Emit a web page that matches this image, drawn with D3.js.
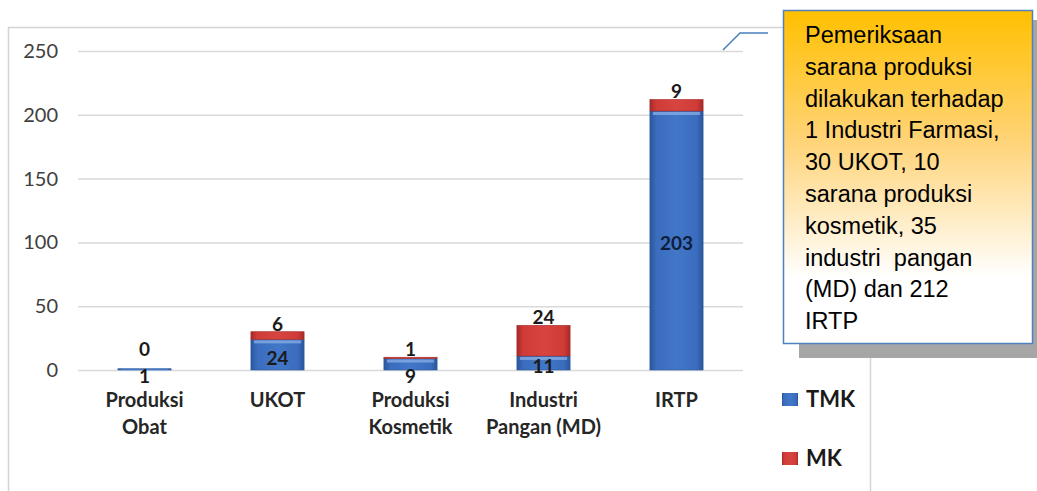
<!DOCTYPE html>
<html>
<head>
<meta charset="utf-8">
<script src="https://d3js.org/d3.v7.min.js"></script>
<style>
  body { margin: 0; background: #fff; }
  svg { display: block; }
</style>
</head>
<body>
<svg width="1037" height="491"></svg>
<script>
// data
var categories = [["Produksi", "Obat"], ["UKOT"], ["Produksi", "Kosmetik"], ["Industri", "Pangan (MD)"], ["IRTP"]];
var tmk = [1, 24, 9, 11, 203];
var mk = [0, 6, 1, 24, 9];
var yTicks = [0, 50, 100, 150, 200, 250];
var seriesNames = ["TMK", "MK"];
var noteLines = ["Pemeriksaan", "sarana produksi", "dilakukan terhadap", "1 Industri Farmasi,",
  "30 UKOT, 10", "sarana produksi", "kosmetik, 35", "industri  pangan", "(MD) dan 212", "IRTP"];

var svg = d3.select("svg");
var defs = svg.append("defs");

function barGradient(id, dark, mid, light) {
  var g = defs.append("linearGradient").attr("id", id).attr("x1", 0).attr("x2", 1).attr("y1", 0).attr("y2", 0);
  g.append("stop").attr("offset", "0%").attr("stop-color", dark);
  g.append("stop").attr("offset", "12%").attr("stop-color", mid);
  g.append("stop").attr("offset", "50%").attr("stop-color", light);
  g.append("stop").attr("offset", "88%").attr("stop-color", mid);
  g.append("stop").attr("offset", "100%").attr("stop-color", dark);
}
barGradient("blueG", "#2a569b", "#3b6cbd", "#4277c8");
barGradient("redG", "#a52a28", "#cf3b37", "#d8443f");

var noteG = defs.append("linearGradient").attr("id", "noteG").attr("x1", 0).attr("x2", 0).attr("y1", 0).attr("y2", 1);
noteG.append("stop").attr("offset", "0%").attr("stop-color", "#ffc000");
noteG.append("stop").attr("offset", "40%").attr("stop-color", "#ffd47a");
noteG.append("stop").attr("offset", "80%").attr("stop-color", "#ffffff");
noteG.append("stop").attr("offset", "100%").attr("stop-color", "#ffffff");

// chart frame
svg.append("rect").attr("x", 8.5).attr("y", 27.5).attr("width", 862).attr("height", 480)
  .attr("fill", "#fff").attr("stroke", "#d4d4d4").attr("stroke-width", 1.5);

var left = 78, right = 743;
var y = d3.scaleLinear().domain([0, 250]).range([370, 51]);
var x = d3.scaleBand().domain(d3.range(categories.length)).range([left, right]).paddingInner(0.6).paddingOuter(0.3);

// grid + y labels
var yAxis = d3.axisLeft(y).tickValues(yTicks).tickSize(-(right - left)).tickPadding(20);
var ga = svg.append("g").attr("transform", "translate(" + left + ",0)").call(yAxis);
ga.select(".domain").remove();
ga.selectAll(".tick line").attr("stroke", "#d9d9d9").attr("stroke-width", 1.5);
ga.selectAll(".tick text").attr("font-family", "Lato, sans-serif").attr("font-size", 20).attr("fill", "#404040");

var stacks = categories.map(function(c, i) { return { i: i, tmk: tmk[i], mk: mk[i] }; });

var bars = svg.append("g");
bars.selectAll("rect.tmk").data(stacks).enter().append("rect").attr("class", "tmk")
  .attr("x", function(d) { return x(d.i); })
  .attr("width", x.bandwidth())
  .attr("y", function(d) { return y(d.tmk); })
  .attr("height", function(d) { return y(0) - y(d.tmk); })
  .attr("fill", "url(#blueG)").attr("stroke", "#2c5a9e").attr("stroke-width", 0.6);
bars.selectAll("rect.mk").data(stacks.filter(function(d) { return d.mk > 0; })).enter().append("rect").attr("class", "mk")
  .attr("x", function(d) { return x(d.i); })
  .attr("width", x.bandwidth())
  .attr("y", function(d) { return y(d.tmk + d.mk); })
  .attr("height", function(d) { return y(d.tmk) - y(d.tmk + d.mk); })
  .attr("fill", "url(#redG)").attr("stroke", "#a52a28").attr("stroke-width", 0.6);
// bevel highlight on the top of each segment
bars.selectAll("rect.hl").data(stacks).enter().append("rect").attr("class", "hl")
  .attr("x", function(d) { return x(d.i) + 3; })
  .attr("width", x.bandwidth() - 6)
  .attr("y", function(d) { return y(d.tmk) + 1; })
  .attr("height", function(d) { return Math.min(3, y(0) - y(d.tmk)); })
  .attr("fill", "#8fb4ea").attr("opacity", 0.7);

// value labels
var lab = svg.append("g").attr("font-family", "Lato, sans-serif").attr("font-weight", "bold")
  .attr("font-size", 19).attr("fill", "#1a1a1a").attr("text-anchor", "middle");
lab.selectAll("text.mk").data(stacks).enter().append("text")
  .attr("x", function(d) { return x(d.i) + x.bandwidth() / 2; })
  .attr("y", function(d) { return Math.min(y(d.tmk + d.mk), y(0) - 13) - 1; })
  .text(function(d) { return d.mk; });
lab.selectAll("text.tmk").data(stacks).enter().append("text")
  .attr("x", function(d) { return x(d.i) + x.bandwidth() / 2; })
  .attr("y", function(d) { return d.tmk < 10 ? y(0) + 13 : (y(0) + y(d.tmk)) / 2 + 10; })
  .attr("fill", function(d) { return d.tmk > 100 ? "#0d1f3c" : "#1a1a1a"; })
  .text(function(d) { return d.tmk; });

// category labels
var cat = svg.append("g").attr("font-family", "Lato, sans-serif").attr("font-weight", "bold")
  .attr("font-size", 20).attr("fill", "#262626").attr("text-anchor", "middle");
categories.forEach(function(c, i) {
  c.forEach(function(line, j) {
    cat.append("text").attr("x", x(i) + x.bandwidth() / 2).attr("y", 407 + j * 27).text(line);
  });
});

// legend
var legendColors = ["url(#blueG)", "url(#redG)"];
var leg = svg.append("g");
seriesNames.forEach(function(s, i) {
  var ly = 399 + i * 59;
  leg.append("rect").attr("x", 782).attr("y", ly - 6).attr("width", 16).attr("height", 13).attr("fill", legendColors[i]);
  leg.append("text").attr("x", 806).attr("y", ly + 8).attr("font-family", "Lato, sans-serif").attr("font-weight", "bold")
    .attr("font-size", 22).attr("fill", "#1a1a1a").text(s);
});

// callout
svg.append("path").attr("d", "M723,50 L740,33 L768,33").attr("fill", "none").attr("stroke", "#4a7ebb").attr("stroke-width", 1.5);
svg.append("rect").attr("x", 799).attr("y", 20).attr("width", 240).attr("height", 338).attr("fill", "#a6a6a6");
svg.append("rect").attr("x", 783.5).attr("y", 10.5).attr("width", 249).attr("height", 333)
  .attr("fill", "url(#noteG)").attr("stroke", "#4f81bd").attr("stroke-width", 1.5);
var note = svg.append("text").attr("font-family", "'Liberation Sans', Arial, sans-serif").attr("font-size", 23.5).attr("fill", "#000");
noteLines.forEach(function(l, i) {
  note.append("tspan").attr("x", 805).attr("y", 43 + i * 31.8).attr("xml:space", "preserve").text(l);
});
</script>
</body>
</html>
